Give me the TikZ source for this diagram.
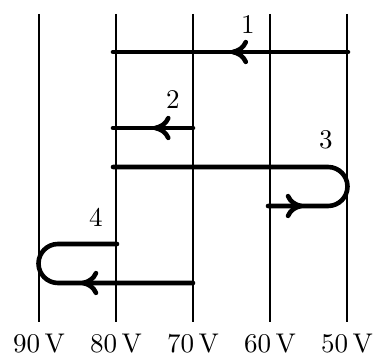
\documentclass[tikz,border=0pt]{standalone}
\usetikzlibrary{arrows.meta,decorations.markings}
\begin{document}
\begin{tikzpicture}[x=0.37pt,y=-0.37pt,
  grid/.style={line width=0.75pt},
  trace/.style={line width=1.7pt,line cap=round},
  arr/.style={postaction={decorate,decoration={markings,
      mark=at position #1 with {\arrow{To[length=6.5pt,width=9pt]}}}}},
  volt/.style={inner sep=0pt},
  num/.style={inner sep=0pt}]
\useasboundingbox (0,0) rectangle (377,360);
% voltage grid
\foreach \x/\v [count=\i] in {39/90,116/80,193/70,270/60,347/50}{
  \coordinate (t\i) at (\x,14);
  \coordinate (b\i) at (\x,322);
  \node[volt] (v\i) at (\x,344) {\v\,V};
  \draw[grid] (t\i) -- (b\i);
}
% path 1
\coordinate (p1a) at (348,52);
\coordinate (p1b) at (113,52);
\draw[trace,arr=0.5] (p1a) -- (p1b);
\node[num] (n1) at (248,25) {1};
% path 2
\coordinate (p2a) at (193,128);
\coordinate (p2b) at (113,128);
\draw[trace,arr=0.5] (p2a) -- (p2b);
\node[num] (n2) at (173,100) {2};
% path 3
\coordinate (p3a) at (268,206);
\coordinate (p3b) at (328,206);
\coordinate (p3c) at (113,167);
\draw[trace,arr=0.105] (p3a) -- (p3b) arc[start angle=90,end angle=-90,radius=19.5] -- (p3c);
\node[num] (n3) at (326,140) {3};
% path 4
\coordinate (p4a) at (193,283);
\coordinate (p4b) at (58,283);
\coordinate (p4c) at (117,244);
\draw[trace,arr=0.44] (p4a) -- (p4b) arc[start angle=90,end angle=270,radius=19.5] -- (p4c);
\node[num] (n4) at (96,217) {4};
\end{tikzpicture}
\end{document}
